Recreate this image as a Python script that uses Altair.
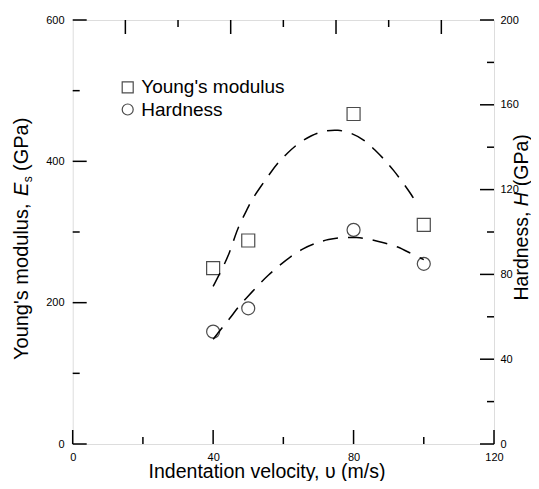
import altair as alt
import pandas as pd

FONT = "Liberation Sans"

# ---- data ----
velocity = [40, 50, 80, 100]
youngs_modulus = [249, 288, 467, 310]
hardness = [53, 64, 101, 85]

young_fit_x = [40.0, 42.9, 44.8, 46.2, 47.6, 49.6, 51.0, 53.8, 56.2, 58.6, 61.0, 64.3,
               68.1, 71.4, 75.6, 79.5, 83.2, 86.1, 88.9, 91.3, 94.2, 96.6, 98.4]
young_fit_y = [223, 251, 272, 294, 312, 331, 346, 366, 383, 399, 411, 426,
               437, 443, 445, 440, 430, 416, 402, 388, 369, 352, 337]
hard_fit_x = [40.0, 42.4, 44.8, 47.2, 50.0, 52.9, 55.7, 59.0, 61.9, 65.7, 69.0, 72.8,
              77.1, 80.9, 84.7, 88.5, 92.7, 96.1, 100.0]
hard_fit_y = [49.4, 54.6, 59.3, 64.8, 69.8, 75.0, 79.7, 84.4, 88.3, 92.3, 94.7, 96.6,
              97.5, 97.5, 96.6, 95.0, 93.1, 90.0, 87.0]

x_labels = [0, 40, 80, 120]
x_minor = [20, 60, 100]
top_major = [15, 45, 75, 105]
top_minor = [30, 60, 90]
left_labels = [0, 200, 400, 600]
left_minor = [100, 300, 500]
right_labels = [0, 40, 80, 120, 160, 200]
right_minor = [20, 60, 100, 140, 180]

series_names = ["Young's modulus", "Hardness"]

W, H = 421.3, 424
MAJ, MIN = 14, 7

xscale = alt.Scale(domain=[0, 120], nice=False, zero=False)
yl_scale = alt.Scale(domain=[0, 600], nice=False)
yr_scale = alt.Scale(domain=[0, 200], nice=False)

x_axis = alt.Axis(values=x_labels, ticks=False, tickSize=0, domain=False, grid=False,
                  labelFontSize=11, labelPadding=7.5, title=None, labelFlush=False,
                  labelColor="black", labelFont=FONT, format="d")
yl_axis = alt.Axis(values=left_labels, orient="left", ticks=False, tickSize=0, domain=False,
                   grid=False, labelFontSize=11, labelPadding=8.7, title=None,
                   labelColor="black", labelFont=FONT, format="d", labelFlush=False)
yr_axis = alt.Axis(values=right_labels, orient="right", ticks=False, tickSize=0, domain=False,
                   grid=False, labelFontSize=11, labelPadding=6, title=None,
                   labelColor="black", labelFont=FONT, format="d", labelFlush=False)

shape_scale = alt.Scale(domain=series_names, range=["square", "circle"])
legend = alt.Legend(orient="none", legendX=45.5, legendY=57.8, title=None, labelFontSize=19,
                    labelFont=FONT, labelColor="black", symbolSize=121, symbolStrokeWidth=1.2,
                    symbolStrokeColor="black", symbolFillColor="transparent", labelOffset=4,
                    rowPadding=2.2, padding=0)

X = alt.X("v:Q", scale=xscale, axis=x_axis)

young_df = pd.DataFrame({"v": velocity, "y": youngs_modulus, "s": series_names[0]})
hard_df = pd.DataFrame({"v": velocity, "y": hardness, "s": series_names[1]})
young_fit = pd.DataFrame({"v": young_fit_x, "y": young_fit_y})
hard_fit = pd.DataFrame({"v": hard_fit_x, "y": hard_fit_y})

young_pts = alt.Chart(young_df).mark_point(filled=False, color="black", size=169, strokeWidth=1.2).encode(
    x=X, y=alt.Y("y:Q", scale=yl_scale, axis=yl_axis),
    shape=alt.Shape("s:N", scale=shape_scale, legend=legend))
young_line = alt.Chart(young_fit).mark_line(color="black", strokeWidth=1.5, strokeDash=[15, 10],
                                            interpolate="basis").encode(
    x=X, y=alt.Y("y:Q", scale=yl_scale, axis=yl_axis))

hard_pts = alt.Chart(hard_df).mark_point(filled=False, color="black", size=169, strokeWidth=1.2).encode(
    x=X, y=alt.Y("y:Q", scale=yr_scale, axis=yr_axis),
    shape=alt.Shape("s:N", scale=shape_scale, legend=legend))
hard_line = alt.Chart(hard_fit).mark_line(color="black", strokeWidth=1.5, strokeDash=[15, 10],
                                          interpolate="basis").encode(
    x=X, y=alt.Y("y:Q", scale=yr_scale, axis=yr_axis))


def xticks(vals, length, top):
    df = pd.DataFrame({"v": vals})
    if top:
        yy, yy2 = alt.value(0), alt.value(length)
    else:
        yy, yy2 = alt.value(H), alt.value(H - length)
    return alt.Chart(df).mark_rule(color="black", strokeWidth=1.5).encode(x=X, y=yy, y2=yy2)


def yticks(vals, length, right, scale, axis):
    df = pd.DataFrame({"y": vals})
    if right:
        xx, xx2 = alt.value(W), alt.value(W - length)
    else:
        xx, xx2 = alt.value(0), alt.value(length)
    return alt.Chart(df).mark_rule(color="black", strokeWidth=1.5).encode(
        y=alt.Y("y:Q", scale=scale, axis=axis), x=xx, x2=xx2)


one = pd.DataFrame({"k": [0]})


def txt(text, x, y, size=20, angle=0, italic=False, align="left"):
    kw = dict(font=FONT, fontSize=size, color="black", align=align, baseline="alphabetic")
    if angle:
        kw["angle"] = angle
    if italic:
        kw["fontStyle"] = "italic"
    return alt.Chart(one).mark_text(**kw).encode(x=alt.value(x), y=alt.value(y), text=alt.value(text))


# left title segments (rotated, reading bottom to top)
lx = -44.4
left_title = [
    txt("Young's modulus,", lx, 340, angle=270),
    txt("E", lx, 176.1, angle=270, italic=True),
    txt("s", lx + 4, 162.3, size=12, angle=270),
    txt("(GPa)", lx, 151.0, angle=270),
]
# right title: start chosen so the 120 tick label sits in the gap before "(GPa)"
rx = 455.3
rs = 280.5
rfs = 19.5
right_title = [
    txt("Hardness,", rx, rs, size=rfs, angle=270),
    txt("H", rx, rs - 94.3, size=rfs, angle=270, italic=True),
    txt("(GPa)", rx, rs - 114.3, size=rfs, angle=270),
]
x_title = txt("Indentation velocity, \u03c5 (m/s)", 194.3, 457.5, size=19.5, align="center")

left = alt.layer(
    young_line, young_pts,
    xticks(x_labels, MAJ, False), xticks(x_minor, MIN, False),
    xticks(top_major, MAJ, True), xticks(top_minor, MIN, True),
    yticks(left_labels, MAJ, False, yl_scale, yl_axis), yticks(left_minor, MIN, False, yl_scale, yl_axis),
    *left_title, *right_title, x_title,
)
right = alt.layer(
    hard_line, hard_pts,
    yticks(right_labels, MAJ, True, yr_scale, yr_axis), yticks(right_minor, MIN, True, yr_scale, yr_axis),
)

chart = alt.layer(left, right).resolve_scale(y="independent").properties(
    width=W, height=H,
    autosize=alt.AutoSizeParams(type="none"),
    padding={"left": 64.7, "top": 12, "right": 37, "bottom": 37},
).configure_view(stroke="black", strokeWidth=1.5).configure(font=FONT, background="white")

chart.save("out.html", embed_options={"renderer": "svg", "actions": False})
